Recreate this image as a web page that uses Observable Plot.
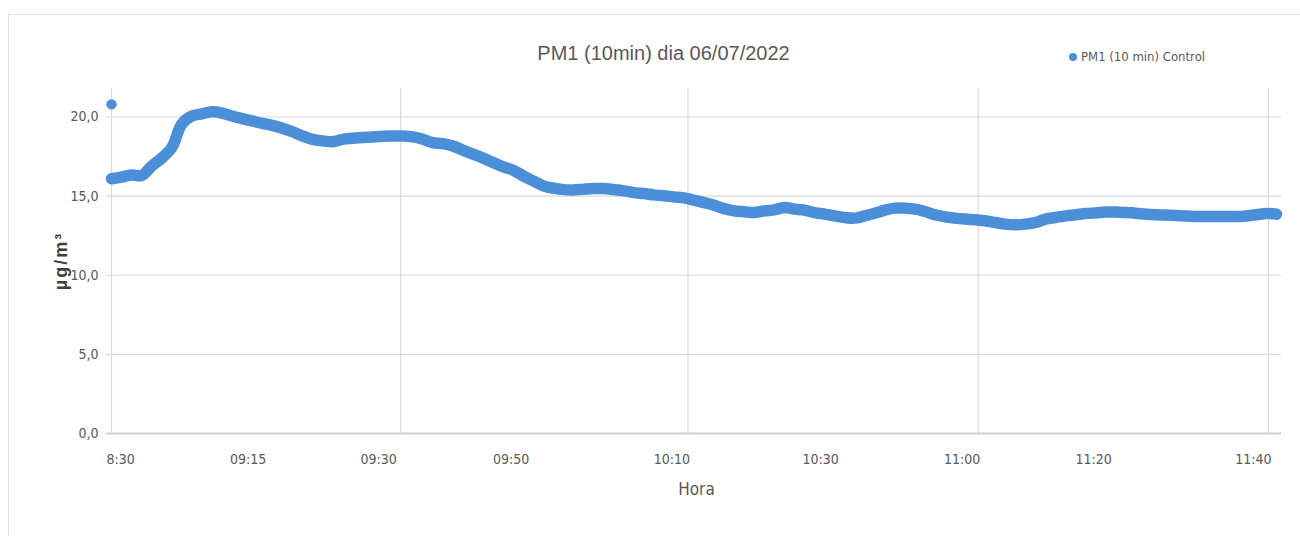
<!DOCTYPE html>
<html>
<head>
<meta charset="utf-8">
<script src="https://cdn.jsdelivr.net/npm/d3@7"></script>
<script src="https://cdn.jsdelivr.net/npm/@observablehq/plot@0.6"></script>
<style>
  html, body { margin: 0; padding: 0; background: #fff; }
  #wrap { position: relative; width: 1300px; height: 536px; overflow: hidden; }
  #frame { position: absolute; left: 8px; top: 14px; width: 1300px; height: 540px;
           border-top: 1px solid #e2e2e2; border-left: 1px solid #e2e2e2; pointer-events: none; }
  #legend { position: absolute; left: 1069px; top: 49px; font-family: 'Liberation Sans Narrow', 'DejaVu Sans Condensed', sans-serif;
            font-size: 13px; color: #595959; display: flex; align-items: center; white-space: nowrap; }
  #legend .sw { width: 8px; height: 8px; border-radius: 50%; background: #4a8fd8; margin-right: 4px; }
</style>
</head>
<body>
<div id="wrap">
  <div id="chart"></div>
  <div id="frame"></div>
  <div id="legend"></div>
</div>
<script>
// ---- data ----
const title = "PM1 (10min) dia 06/07/2022";
const seriesName = "PM1 (10 min) Control";
const xTitle = "Hora";
const yTitle = "µg/m³";

// PM1 readings (µg/m³), one per sample, in order
const pm1 = [
  16.1, 16.2, 16.34, 16.3, 16.9, 17.4, 18.06, 19.56, 20.06, 20.2,
  20.33, 20.25, 20.06, 19.9, 19.75, 19.6, 19.47, 19.29, 19.07, 18.8,
  18.59, 18.49, 18.44, 18.59, 18.65, 18.7, 18.74, 18.78, 18.8, 18.8,
  18.74, 18.59, 18.38, 18.32, 18.17, 17.9, 17.65, 17.4, 17.12, 16.85,
  16.64, 16.28, 15.96, 15.65, 15.5, 15.41, 15.39, 15.44, 15.48, 15.48,
  15.41, 15.33, 15.22, 15.16, 15.08, 15.02, 14.95, 14.89, 14.74, 14.59,
  14.43, 14.21, 14.07, 14.01, 13.96, 14.07, 14.13, 14.28, 14.18, 14.11,
  13.96, 13.86, 13.75, 13.65, 13.61, 13.75, 13.92, 14.11, 14.24, 14.24,
  14.18, 14.03, 13.82, 13.69, 13.61, 13.55, 13.5, 13.44, 13.33, 13.23,
  13.19, 13.23, 13.33, 13.55, 13.65, 13.75, 13.82, 13.9, 13.94, 13.99,
  13.99, 13.96, 13.92, 13.86, 13.82, 13.8, 13.77, 13.75, 13.71, 13.71,
  13.71, 13.71, 13.71, 13.75, 13.82, 13.9, 13.86
];
// isolated first reading
const outlierSample = [0];
const outlierValue = [20.8];

// category-axis labels and the sample where each is shown
const xTickLabels = ["8:30", "09:15", "09:30", "09:50", "10:10", "10:30", "11:00", "11:20", "11:40"];
const xTickSamples = [0.9, 13.6, 26.6, 39.8, 55.8, 70.6, 84.7, 97.8, 113.7];
const xGridSamples = [0, 28.8, 57.4, 86.3, 115.2];
const yTicks = [0, 5, 10, 15, 20];

// ---- styles ----
const blue = "#4a8fd8";
const grid = "#d9d9d9";
const textGray = "#595959";
const narrow = "'Liberation Sans Narrow', 'DejaVu Sans Condensed', sans-serif";

const chart = Plot.plot({
  width: 1300,
  height: 536,
  marginTop: 88,
  marginBottom: 103,
  marginLeft: 111,
  marginRight: 19,
  style: { fontFamily: narrow, background: "transparent", overflow: "visible" },
  x: { domain: [0, 116.5], axis: null },
  y: { domain: [0, 21.8], axis: null },
  marks: [
    Plot.ruleY(yTicks.filter(d => d > 0), { stroke: grid, strokeWidth: 1.2, insetLeft: -5 }),
    Plot.ruleX(xGridSamples, { stroke: grid, strokeWidth: 1.2 }),
    Plot.ruleY([0], { stroke: "#cfcfcf", strokeWidth: 2.2, insetLeft: -5 }),
    Plot.text(yTicks, {
      y: d => d, frameAnchor: "left", dx: -13, textAnchor: "end",
      text: d => d.toFixed(1).replace(".", ","), fill: textGray, fontSize: 14
    }),
    Plot.text(xTickLabels, {
      x: (d, i) => xTickSamples[i], frameAnchor: "bottom", dy: 30,
      text: d => d, fill: textGray, fontSize: 14
    }),
    Plot.text([xTitle], { frameAnchor: "bottom", dy: 61, text: d => d, fill: textGray, fontSize: 17 }),
    Plot.text([yTitle], {
      frameAnchor: "left", textAnchor: "middle", dx: -50, rotate: -90, text: d => d,
      fill: "#3f3f3f", fontSize: 18, fontWeight: "bold", fontFamily: "'Liberation Sans', sans-serif",
      className: "ylabel"
    }),
    Plot.text([title], {
      frameAnchor: "top", dx: -33, dy: -43, text: d => d,
      fill: textGray, fontSize: 20, fontFamily: "'Liberation Sans', sans-serif"
    }),
    Plot.line(pm1, {
      x: (d, i) => i, y: d => d, stroke: blue, strokeWidth: 11.5,
      strokeLinecap: "round", strokeLinejoin: "round", curve: "catmull-rom"
    }),
    Plot.dot(outlierValue, { x: (d, i) => outlierSample[i], y: d => d, r: 5.2, fill: blue })
  ]
});
document.getElementById("chart").appendChild(chart);
d3.select(chart).selectAll(".ylabel text").style("letter-spacing", "2px");

const lg = document.getElementById("legend");
lg.innerHTML = `<span class="sw"></span><span></span>`;
lg.lastChild.textContent = seriesName;
</script>
</body>
</html>
